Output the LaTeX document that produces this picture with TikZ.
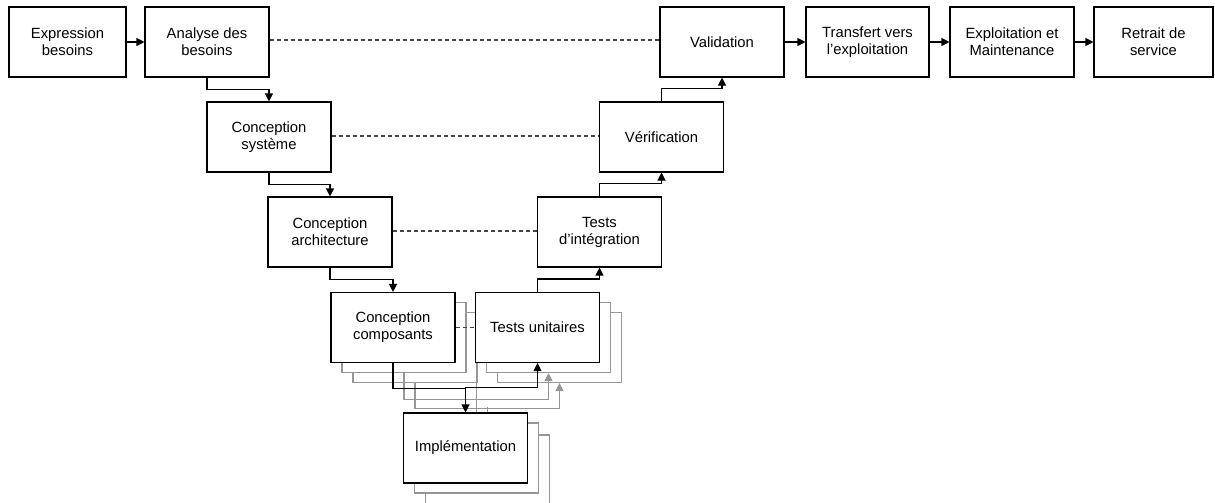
\documentclass[tikz,border=0pt]{standalone}
\usepackage{fontspec}
\setmainfont{Liberation Sans}
\usetikzlibrary{arrows.meta}
\definecolor{shgray}{RGB}{150,150,150}
\definecolor{dashcol}{RGB}{70,70,70}
\tikzset{
  box/.style={draw=black, fill=white, line width=1.1pt, minimum width=124pt, minimum height=70pt,
    inner sep=0pt, align=center, font=\fontsize{14.8}{17}\selectfont},
  shbox/.style={draw=shgray, fill=white, line width=1.1pt, minimum width=124pt, minimum height=70pt, inner sep=0pt},
  arr/.style={line width=1.1pt, -{Triangle[length=8pt,width=8pt]}},
  garr/.style={draw=shgray, line width=1.1pt, -{Triangle[length=8pt,width=8pt]}},
  gline/.style={draw=shgray, line width=1.1pt},
  dashline/.style={draw=dashcol, line width=1.1pt, dash pattern=on 4pt off 3pt},
}
\begin{document}
\begin{tikzpicture}[x=1pt, y=-1pt]
\clip (0,0) rectangle (1215,503);
\fill[white] (0,0) rectangle (1215,503);
% second shadows
\node[shbox] (cc2) at (415,347.5) {};
\node[shbox] (tu2) at (559.5,347.5) {};
\node[shbox] (imp2) at (487.5,470) {};
\draw[garr] (cc2.south) -- ++(0,25.5) -| (tu2.south);
\draw[gline] (imp2.north) -- ++(0,-27);
% first shadows
\node[shbox] (cc1) at (404,337.5) {};
\node[shbox] (tu1) at (548.5,337.5) {};
\node[shbox] (imp1) at (476.5,458) {};
\draw[garr] (cc1.south) -- ++(0,26) -| (tu1.south);
\draw[gline] (imp1.north) -- (imp1.north |- cc2.south);
% main boxes
\node[box, minimum width=117pt] (exp) at (67.5,42) {Expression\\besoins};
\node[box] (ana) at (207,42) {Analyse des\\besoins};
\node[box] (val) at (722,42) {Validation};
\node[box, minimum width=123pt] (tra) at (867.5,42) {Transfert vers\\l’exploitation};
\node[box] (exm) at (1012,42) {Exploitation et\\Maintenance};
\node[box, minimum width=119pt] (ret) at (1153.5,42) {Retrait de\\service};
\node[box] (cs) at (269,137) {Conception\\système};
\node[box] (ver) at (661.5,137) {Vérification};
\node[box] (ca) at (330,232) {Conception\\architecture};
\node[box] (ti) at (599.5,232) {Tests\\d’intégration};
\node[box] (cc) at (393,327.5) {Conception\\composants};
\node[box] (tu) at (537.5,327.5) {Tests unitaires};
\node[box] (imp) at (465.5,448) {Implémentation};
% top row arrows
\draw[arr] (exp.east) -- (ana.west);
\draw[arr] (val.east) -- (tra.west);
\draw[arr] (tra.east) -- (exm.west);
\draw[arr] (exm.east) -- (ret.west);
% descending branch
\draw[arr] (ana.south) -- ++(0,12) -| (cs.north);
\draw[arr] (cs.south) -- ++(0,12) -| (ca.north);
\draw[arr] (ca.south) -- ++(0,12) -| (cc.north);
\draw[arr] (cc.south) -- ++(0,25.5) -| (imp.north);
% ascending branch
\draw[arr] (imp.north) -- ++(0,-25) -| (tu.south);
\draw[arr] (tu.north) -- ++(0,-13) -| (ti.south);
\draw[arr] (ti.north) -- ++(0,-13) -| (ver.south);
\draw[arr] (ver.north) -- ++(0,-13) -| (val.south);
% dashed correspondences
\draw[dashline] ([yshift=2pt]ana.east) -- ([yshift=2pt]val.west);
\draw[dashline] ([yshift=1pt]cs.east) -- ([yshift=1pt]ver.west);
\draw[dashline] ([yshift=1pt]ca.east) -- ([yshift=1pt]ti.west);
\draw[dashline] (cc.east) -- (tu.west);
\end{tikzpicture}
\end{document}
